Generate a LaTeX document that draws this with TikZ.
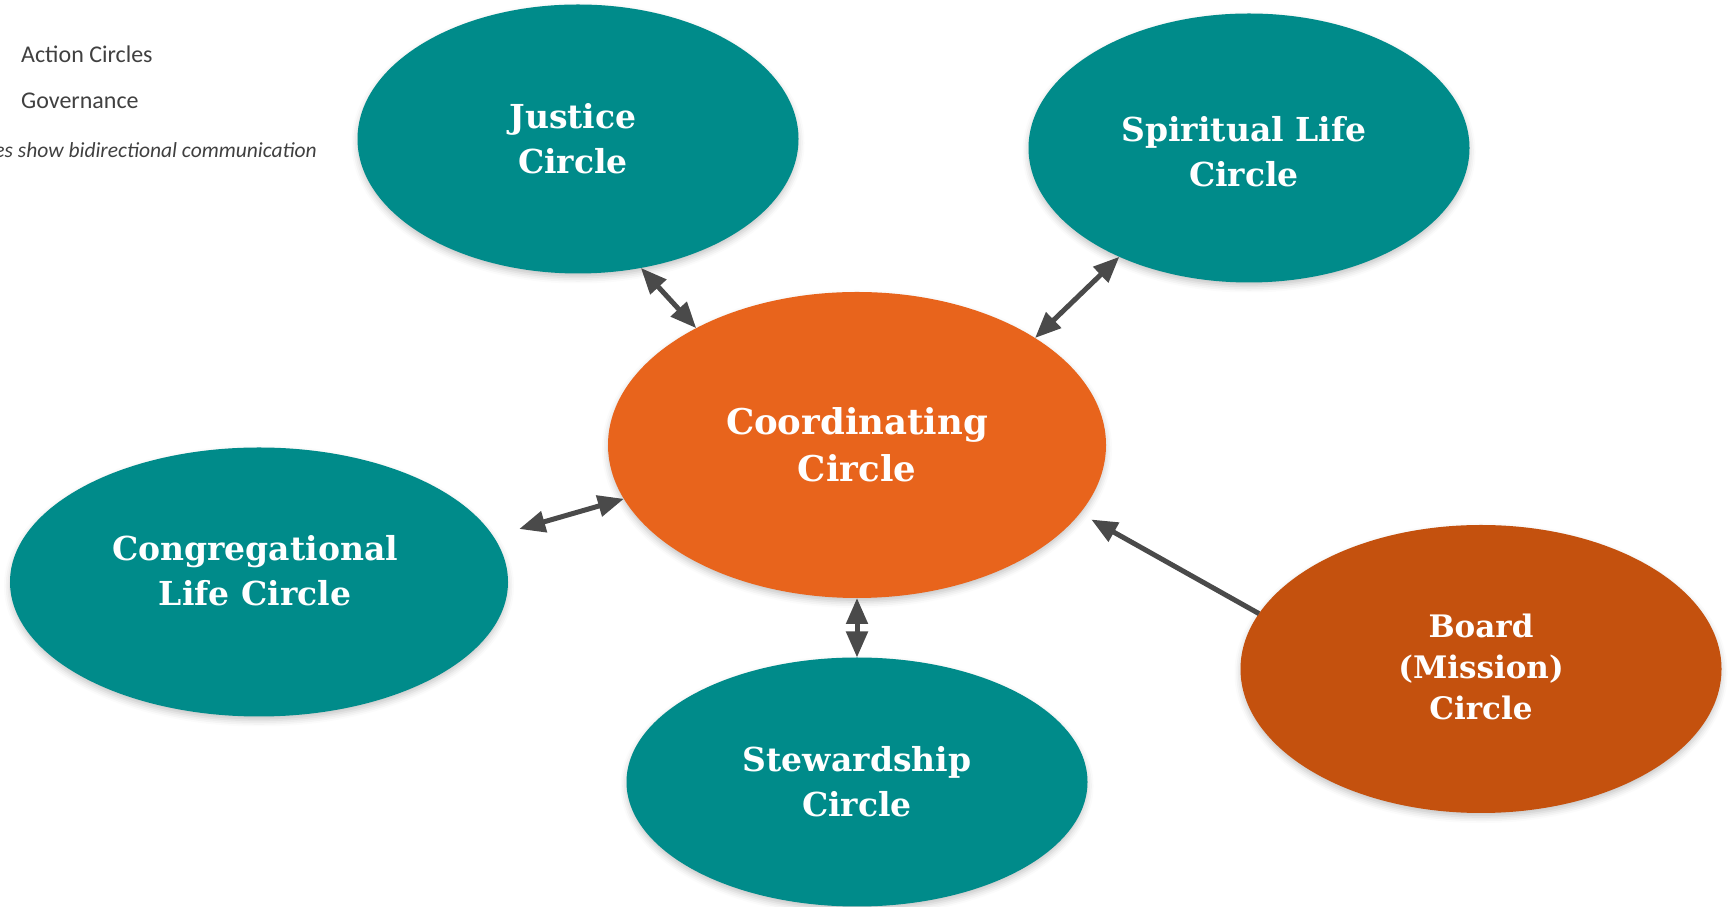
\documentclass[tikz,border=0pt]{standalone}
\usepackage{fontspec}
\setmainfont{Carlito}
\newfontfamily\circfont{DejaVu Serif}
\usetikzlibrary{shapes.geometric,arrows.meta,shadows.blur}
\definecolor{tealc}{RGB}{0,139,138}
\definecolor{orangec}{RGB}{232,100,28}
\definecolor{boardc}{RGB}{196,81,14}
\definecolor{arrowc}{RGB}{74,74,74}
\definecolor{legendc}{RGB}{64,64,64}
\begin{document}
\begin{tikzpicture}[x=1pt,y=1pt,
  circ/.style={ellipse,draw=none,inner sep=0pt,outer sep=0pt,
    blur shadow={shadow xshift=0pt,shadow yshift=-4pt,shadow blur radius=6pt,shadow opacity=22}},
  lbl/.style={text=white,align=center,inner sep=0pt},
  legend/.style={text=legendc,anchor=west,inner sep=0pt,font=\fontsize{24}{28}\selectfont},
  conn/.style={draw=arrowc,line width=5pt,{Triangle[length=26pt,width=21pt]}-{Triangle[length=26pt,width=21pt]}},
  oneway/.style={draw=arrowc,line width=5pt,-{Triangle[length=26pt,width=21pt]}}
]
\useasboundingbox (0,0) rectangle (1729,907);
% ellipses
\node[circ,fill=tealc,minimum width=441pt,minimum height=269pt] (just) at (578,768) {};
\node[circ,fill=tealc,minimum width=441pt,minimum height=269pt] (spirit) at (1249,759) {};
\node[circ,fill=orangec,minimum width=498pt,minimum height=306pt] (coord) at (857,462) {};
\node[circ,fill=tealc,minimum width=498pt,minimum height=269pt] (cong) at (259,325) {};
\node[circ,fill=tealc,minimum width=461pt,minimum height=249pt] (stew) at (857,125) {};
\node[circ,fill=boardc,minimum width=481pt,minimum height=288pt] (board) at (1481,238) {};
% labels
\node[lbl,font=\circfont\bfseries\fontsize{33}{45}\selectfont] (justtxt) at ([xshift=-5pt]just.center) {Justice\\Circle};
\node[lbl,font=\circfont\bfseries\fontsize{33}{45}\selectfont] (spirittxt) at ([xshift=-5pt,yshift=-4pt]spirit.center) {Spiritual Life\\Circle};
\node[lbl,font=\circfont\bfseries\fontsize{35.5}{47}\selectfont] (coordtxt) at (coord.center) {Coordinating\\Circle};
\node[lbl,font=\circfont\bfseries\fontsize{33}{45}\selectfont] (congtxt) at ([xshift=-4pt,yshift=11pt]cong.center) {Congregational\\Life Circle};
\node[lbl,font=\circfont\bfseries\fontsize{33}{45}\selectfont] (stewtxt) at (stew.center) {Stewardship\\Circle};
\node[lbl,font=\circfont\bfseries\fontsize{31}{41}\selectfont] (boardtxt) at ([yshift=2pt]board.center) {Board\\(Mission)\\Circle};
% legend
\node[legend] (leg1) at (21,853) {Action Circles};
\node[legend] (leg2) at (21,806) {Governance};
\node[legend,anchor=east,font=\itshape\fontsize{21.5}{25}\selectfont] (leg3) at (317,757) {es show bidirectional communication};
% connectors
\draw[conn] (just.-64.3) -- (coord.144.4);
\draw[conn] (spirit.220) -- (coord.31);
\draw[conn,shorten <=27pt] (cong.11.6) -- (coord.193.1);
\draw[conn] (coord.south) -- (stew.north);
\draw[oneway,shorten >=13pt] (board.166) -- (coord.-17.3);
\end{tikzpicture}
\end{document}
